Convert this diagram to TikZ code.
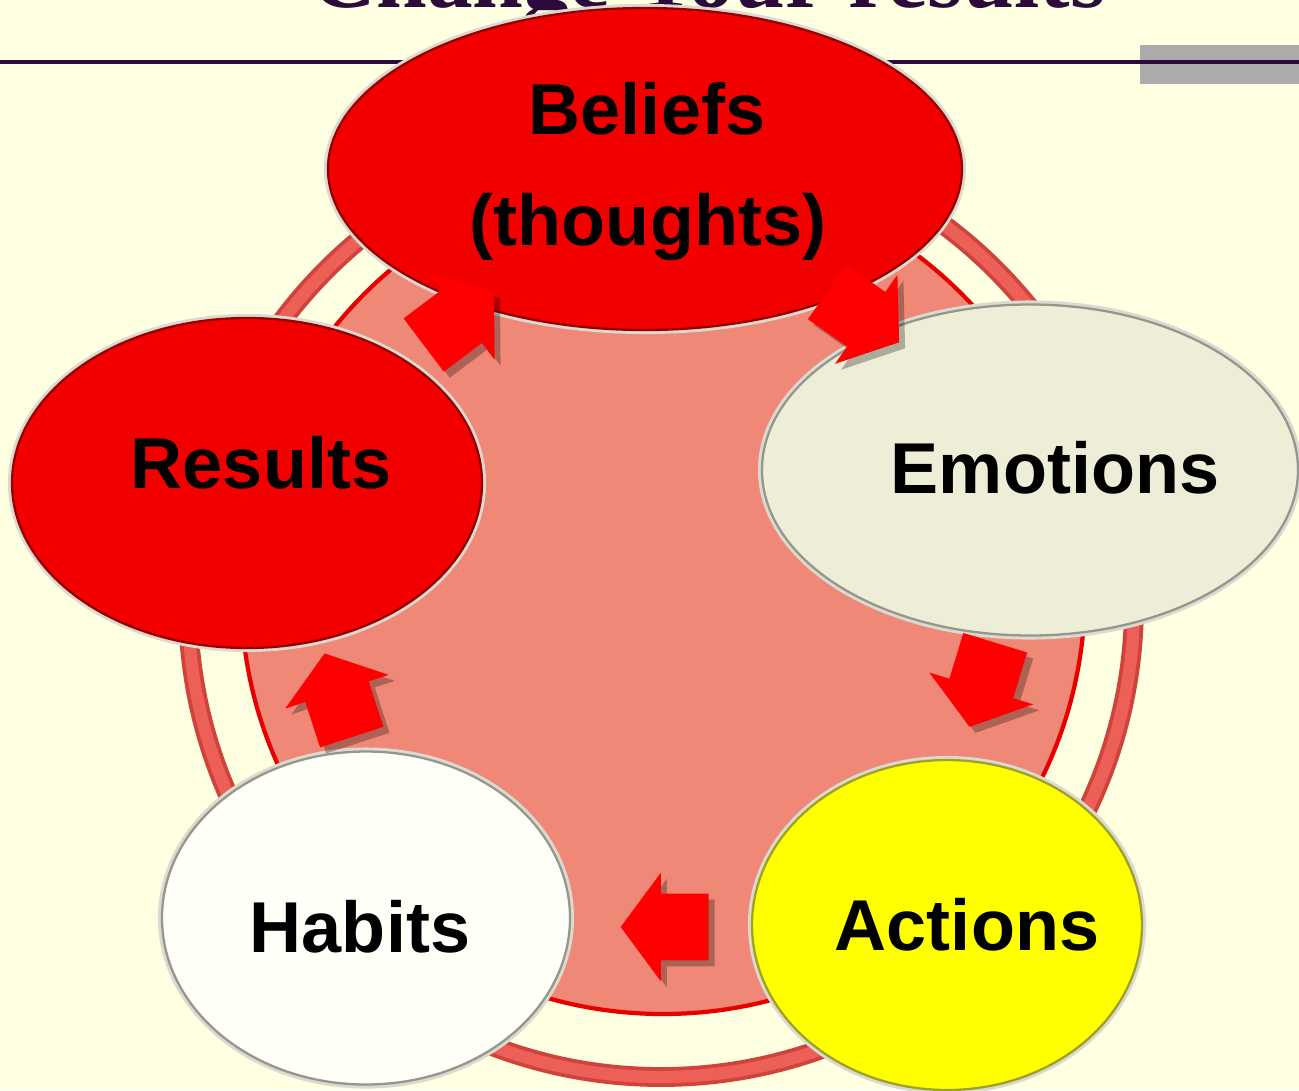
\documentclass[tikz,border=0pt]{standalone}
\usepackage{fontspec}
\setmainfont{Liberation Sans}
\newfontfamily\titlefont{Liberation Serif}
\usetikzlibrary{shapes.geometric,shapes.arrows}

\definecolor{bgc}{RGB}{255,255,226}
\definecolor{ringc}{RGB}{236,96,88}
\definecolor{ringd}{RGB}{208,66,60}
\definecolor{discc}{RGB}{240,136,120}
\definecolor{discb}{RGB}{232,0,0}
\definecolor{redfill}{RGB}{242,0,0}
\definecolor{reddark}{RGB}{150,0,0}
\definecolor{rimc}{RGB}{218,218,208}
\definecolor{emofill}{RGB}{238,238,216}
\definecolor{habfill}{RGB}{255,255,248}
\definecolor{actfill}{RGB}{255,255,0}
\definecolor{actdark}{RGB}{160,160,40}
\definecolor{greydark}{RGB}{150,150,140}
\definecolor{titlec}{RGB}{45,10,60}
\definecolor{barc}{RGB}{171,171,171}
\definecolor{arrc}{RGB}{255,0,0}

\begin{document}
\begin{tikzpicture}[x=0.02cm,y=-0.02cm,
  oval/.style n args={4}{ellipse, inner sep=0pt,
    minimum width=#1*0.02cm, minimum height=#2*0.02cm,
    fill=#3, draw=#4, line width=1.3pt,
    preaction={draw=rimc, line width=4.6pt}},
  lbl/.style={anchor=base, inner sep=0pt,
    font=\fontsize{41}{49}\selectfont\bfseries, text=black},
  blockarrow/.style={single arrow, inner xsep=0pt, inner ysep=0.66cm,
    minimum height=1.76cm,
    single arrow head extend=0.42cm, single arrow tip angle=107,
    fill=arrc, rotate=#1},
  arrshadow/.style={blockarrow=#1, fill=black, opacity=0.28},
]
\useasboundingbox (0,0) rectangle (1299,1090);
\clip (0,0) rectangle (1299,1090);
\fill[bgc] (0,0) rectangle (1299,1090);

% title (cut off at top) and header rule
\node[anchor=base, inner sep=0pt, text=titlec,
  font=\titlefont\fontsize{52}{60}\selectfont\bfseries] (title) at (708,7) {Change Your results};
\fill[barc] (1140,45) rectangle (1299,84);
\draw[titlec, line width=2.3pt] (0,62) -- (1299,62);

% ring and disc
\node[circle, inner sep=0pt, minimum size=946*0.02cm, draw=ringd, line width=11.3pt] (ringout) at (661,604) {};
\node[circle, inner sep=0pt, minimum size=946*0.02cm, draw=ringc, line width=7pt] (ring) at (661,604) {};
\node[circle, inner sep=0pt, minimum size=844*0.02cm, fill=discc, draw=discb, line width=2.4pt] (disc) at (663,592) {};

% ellipses
\node[oval={634}{322}{redfill}{reddark}] (beliefs) at (645,169) {};
\node[oval={470}{330}{redfill}{reddark}] (results) at (247,483) {};
\node[oval={536}{331}{emofill}{greydark}] (emotions) at (1030,470) {};
\node[oval={390}{330}{actfill}{actdark}] (actions) at (947,925) {};
\node[oval={408}{333}{habfill}{greydark}] (habits) at (366,918) {};

% labels
\node[lbl] (beliefsA) at (647,134) {Beliefs};
\node[lbl] (beliefsB) at (648,245) {(thoughts)};
\node[lbl] (resultsL) at (261,488) {Results};
\node[lbl] (emotionsL) at (1055,493) {Emotions};
\node[lbl] (actionsL) at (967,950) {Actions};
\node[lbl] (habitsL) at (360,952) {Habits};

% block arrows (shadows then arrows)
\node[arrshadow=37] (s1) at (455,332) {};
\node[arrshadow=-35] (s2) at (859,316) {};
\node[arrshadow=-107] (s3) at (992,679) {};
\node[arrshadow=180] (s4) at (683,933) {};
\node[arrshadow=108] (s5) at (348,713) {};
\node[blockarrow=37] (a1) at (449,326) {};
\node[blockarrow=-35] (a2) at (853,310) {};
\node[blockarrow=-107] (a3) at (986,673) {};
\node[blockarrow=180] (a4) at (677,927) {};
\node[blockarrow=108] (a5) at (342,707) {};
\end{tikzpicture}
\end{document}
